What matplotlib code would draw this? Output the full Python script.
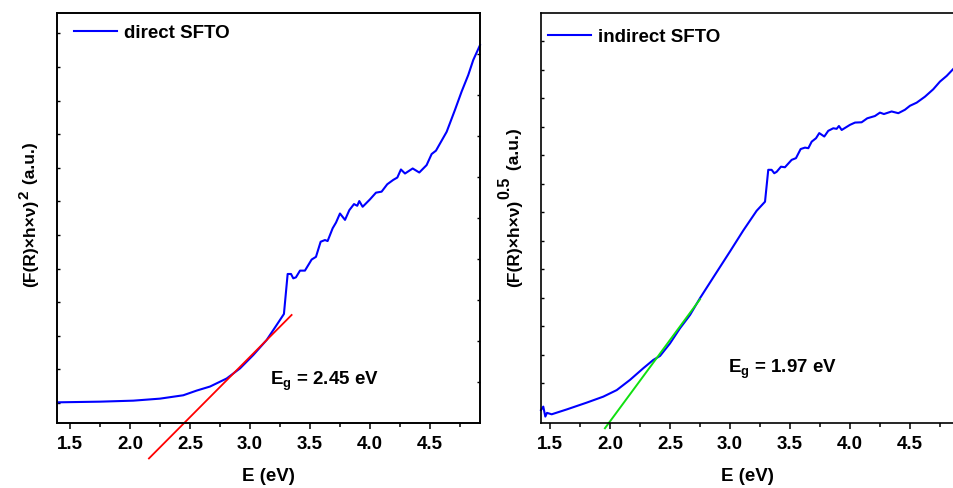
import matplotlib
matplotlib.use("Agg")
import matplotlib.pyplot as plt
from matplotlib.ticker import MultipleLocator, FixedLocator, NullFormatter

plt.rcParams['font.family'] = ['Liberation Sans', 'DejaVu Sans']
plt.rcParams['font.weight'] = 'bold'
plt.rcParams['mathtext.fontset'] = 'custom'
plt.rcParams['mathtext.rm'] = 'Liberation Sans:bold'
plt.rcParams['mathtext.it'] = 'Liberation Sans:bold'
plt.rcParams['mathtext.bf'] = 'Liberation Sans:bold'
plt.rcParams['mathtext.default'] = 'rm'

# ---------------- data: direct SFTO ----------------
direct_E = [1.394, 1.75, 2.028, 2.25, 2.444, 2.556, 2.667, 2.806, 2.917, 3.028,
            3.139, 3.222, 3.283, 3.314, 3.342, 3.361, 3.383, 3.417, 3.458, 3.514,
            3.55, 3.589, 3.625, 3.647, 3.689, 3.717, 3.75, 3.792, 3.828, 3.867,
            3.894, 3.911, 3.939, 4.0, 4.05, 4.097, 4.144, 4.194, 4.228, 4.258,
            4.292, 4.356, 4.411, 4.472, 4.514, 4.55, 4.639, 4.708, 4.764, 4.819,
            4.861, 4.917]
direct_Y = [0.02, 0.04, 0.07, 0.13, 0.23, 0.37, 0.49, 0.73, 1.03, 1.43,
            1.875, 2.32, 2.65, 3.84, 3.84, 3.71, 3.74, 3.94, 3.94, 4.27,
            4.35, 4.80, 4.85, 4.82, 5.20, 5.37, 5.64, 5.45, 5.74, 5.92,
            5.87, 6.01, 5.84, 6.06, 6.26, 6.29, 6.51, 6.64, 6.71, 6.95,
            6.83, 6.98, 6.86, 7.08, 7.41, 7.51, 8.07, 8.72, 9.27, 9.76,
            10.21, 10.65]
direct_fit_E = [2.158, 3.347]
direct_fit_Y = [-1.65, 2.62]

# ---------------- data: indirect SFTO ----------------
indirect_E = [1.425, 1.444, 1.461, 1.475, 1.514, 1.639, 1.806, 1.944, 2.056, 2.167,
              2.278, 2.361, 2.417, 2.5, 2.583, 2.667, 2.75, 2.861, 3.0, 3.111,
              3.222, 3.292, 3.319, 3.347, 3.369, 3.389, 3.425, 3.458, 3.514, 3.55,
              3.589, 3.625, 3.653, 3.681, 3.717, 3.744, 3.786, 3.819, 3.861, 3.889,
              3.908, 3.931, 4.0, 4.042, 4.097, 4.144, 4.208, 4.25, 4.283, 4.347,
              4.403, 4.458, 4.5, 4.556, 4.625, 4.694, 4.75, 4.806, 4.867]
indirect_Y = [-0.95, -0.83, -1.18, -1.05, -1.10, -0.93, -0.69, -0.48, -0.25, 0.11,
              0.52, 0.81, 0.95, 1.39, 1.92, 2.39, 2.98, 3.71, 4.62, 5.36,
              6.05, 6.37, 7.49, 7.49, 7.37, 7.42, 7.60, 7.58, 7.84, 7.90,
              8.22, 8.27, 8.25, 8.48, 8.60, 8.78, 8.66, 8.86, 8.95, 8.93,
              9.03, 8.89, 9.07, 9.15, 9.16, 9.30, 9.38, 9.50, 9.45, 9.54,
              9.48, 9.60, 9.74, 9.85, 10.06, 10.32, 10.59, 10.79, 11.06]
indirect_fit_E = [1.958, 2.75]
indirect_fit_Y = [-1.59, 2.94]

xticks = [1.5, 2.0, 2.5, 3.0, 3.5, 4.0, 4.5]
xtick_labels = ["1.5", "2.0", "2.5", "3.0", "3.5", "4.0", "4.5"]

W, H = 954, 488
fig = plt.figure(figsize=(W / 100, H / 100), dpi=100)

def frac_box(x0, x1, top, bottom):
    return [x0 / W, 1 - bottom / H, (x1 - x0) / W, (bottom - top) / H]

axL = fig.add_axes(frac_box(57.5, 480, 13, 423))
axR = fig.add_axes(frac_box(540.7, 954, 13, 423))

BLUE = '#0000FF'
FS = 13.5

def style(ax, xlim, ylim, yticks):
    ax.set_xlim(*xlim)
    ax.set_ylim(*ylim)
    ax.xaxis.set_major_locator(FixedLocator(xticks))
    ax.set_xticklabels(xtick_labels, fontsize=FS, fontweight='bold')
    ax.xaxis.set_minor_locator(MultipleLocator(0.25))
    ax.yaxis.set_major_locator(FixedLocator(yticks))
    ax.yaxis.set_major_formatter(NullFormatter())
    ax.tick_params(axis='x', which='major', direction='out', length=4.3, width=1.1, pad=5)
    ax.tick_params(axis='x', which='minor', direction='out', length=2.6, width=1.1)
    ax.tick_params(axis='y', which='major', direction='in', length=2.2, width=1.0, left=True, right=False)
    ax.tick_params(axis='x', top=False)
    for s in ax.spines.values():
        s.set_linewidth(1.2)
    ax.set_xlabel("E (eV)", fontsize=FS, fontweight='bold', labelpad=11)

# left panel
style(axL, (1.396, 4.917), (-0.595, 11.607), list(range(0, 12)))
axL.plot(direct_E, direct_Y, color=BLUE, lw=1.5, label="direct SFTO", clip_on=False)
axL.plot(direct_fit_E, direct_fit_Y, color='#FF0000', lw=1.3, clip_on=False)
axL.text(0.503, 0.0927, r"E$_{\rm g}$ = 2.45 eV", transform=axL.transAxes,
         fontsize=FS, fontweight='bold', va='baseline', ha='left')
axL.legend(loc='center left', bbox_to_anchor=(0.039, 0.951), frameon=False,
           borderpad=0, borderaxespad=0, handlelength=2.3, handletextpad=0.35,
           prop={'size': FS, 'weight': 'bold'})
twin = axL.twinx()
twin.set_ylim(0, 10)
twin.yaxis.set_major_locator(FixedLocator(list(range(1, 10))))
twin.yaxis.set_major_formatter(NullFormatter())
twin.tick_params(axis='y', direction='in', length=2.2, width=1.0)
for s in twin.spines.values():
    s.set_linewidth(1.2)

# right panel
style(axR, (1.4225, 4.867), (-1.406, 13.0), list(range(0, 13)))
axR.spines['right'].set_visible(False)
axR.plot(indirect_E, indirect_Y, color=BLUE, lw=1.5, label="indirect SFTO", clip_on=False)
axR.plot(indirect_fit_E, indirect_fit_Y, color='#10E010', lw=1.4, clip_on=False)
axR.text(0.453, 0.122, r"E$_{\rm g}$ = 1.97 eV", transform=axR.transAxes,
         fontsize=FS, fontweight='bold', va='baseline', ha='left')
axR.legend(loc='center left', bbox_to_anchor=(0.0177, 0.9415), frameon=False,
           borderpad=0, borderaxespad=0, handlelength=2.3, handletextpad=0.35,
           prop={'size': FS, 'weight': 'bold'})

# y labels built as chained rotated texts (full-size superscripts)
fig.canvas.draw()
renderer = fig.canvas.get_renderer()

def chain_label(parts, y_start_px, gap=1.0):
    y = H - y_start_px
    for text, xc, size in parts:
        t = fig.text(xc / W, y / H, text, rotation=90, ha='center', va='bottom',
                     fontsize=size, fontweight='bold')
        bb = t.get_window_extent(renderer)
        y = bb.y1 + gap

chain_label([("(F(R)×h×ν)", 31, 12.5), ("2", 25, 11), (" (a.u.)", 31, 12.5)], 287)
chain_label([("(F(R)×h×ν)", 515, 12.5), ("0.5", 505, 11.5), (" (a.u.)", 515, 12.5)], 287)

fig.savefig("out.png", dpi=100)
